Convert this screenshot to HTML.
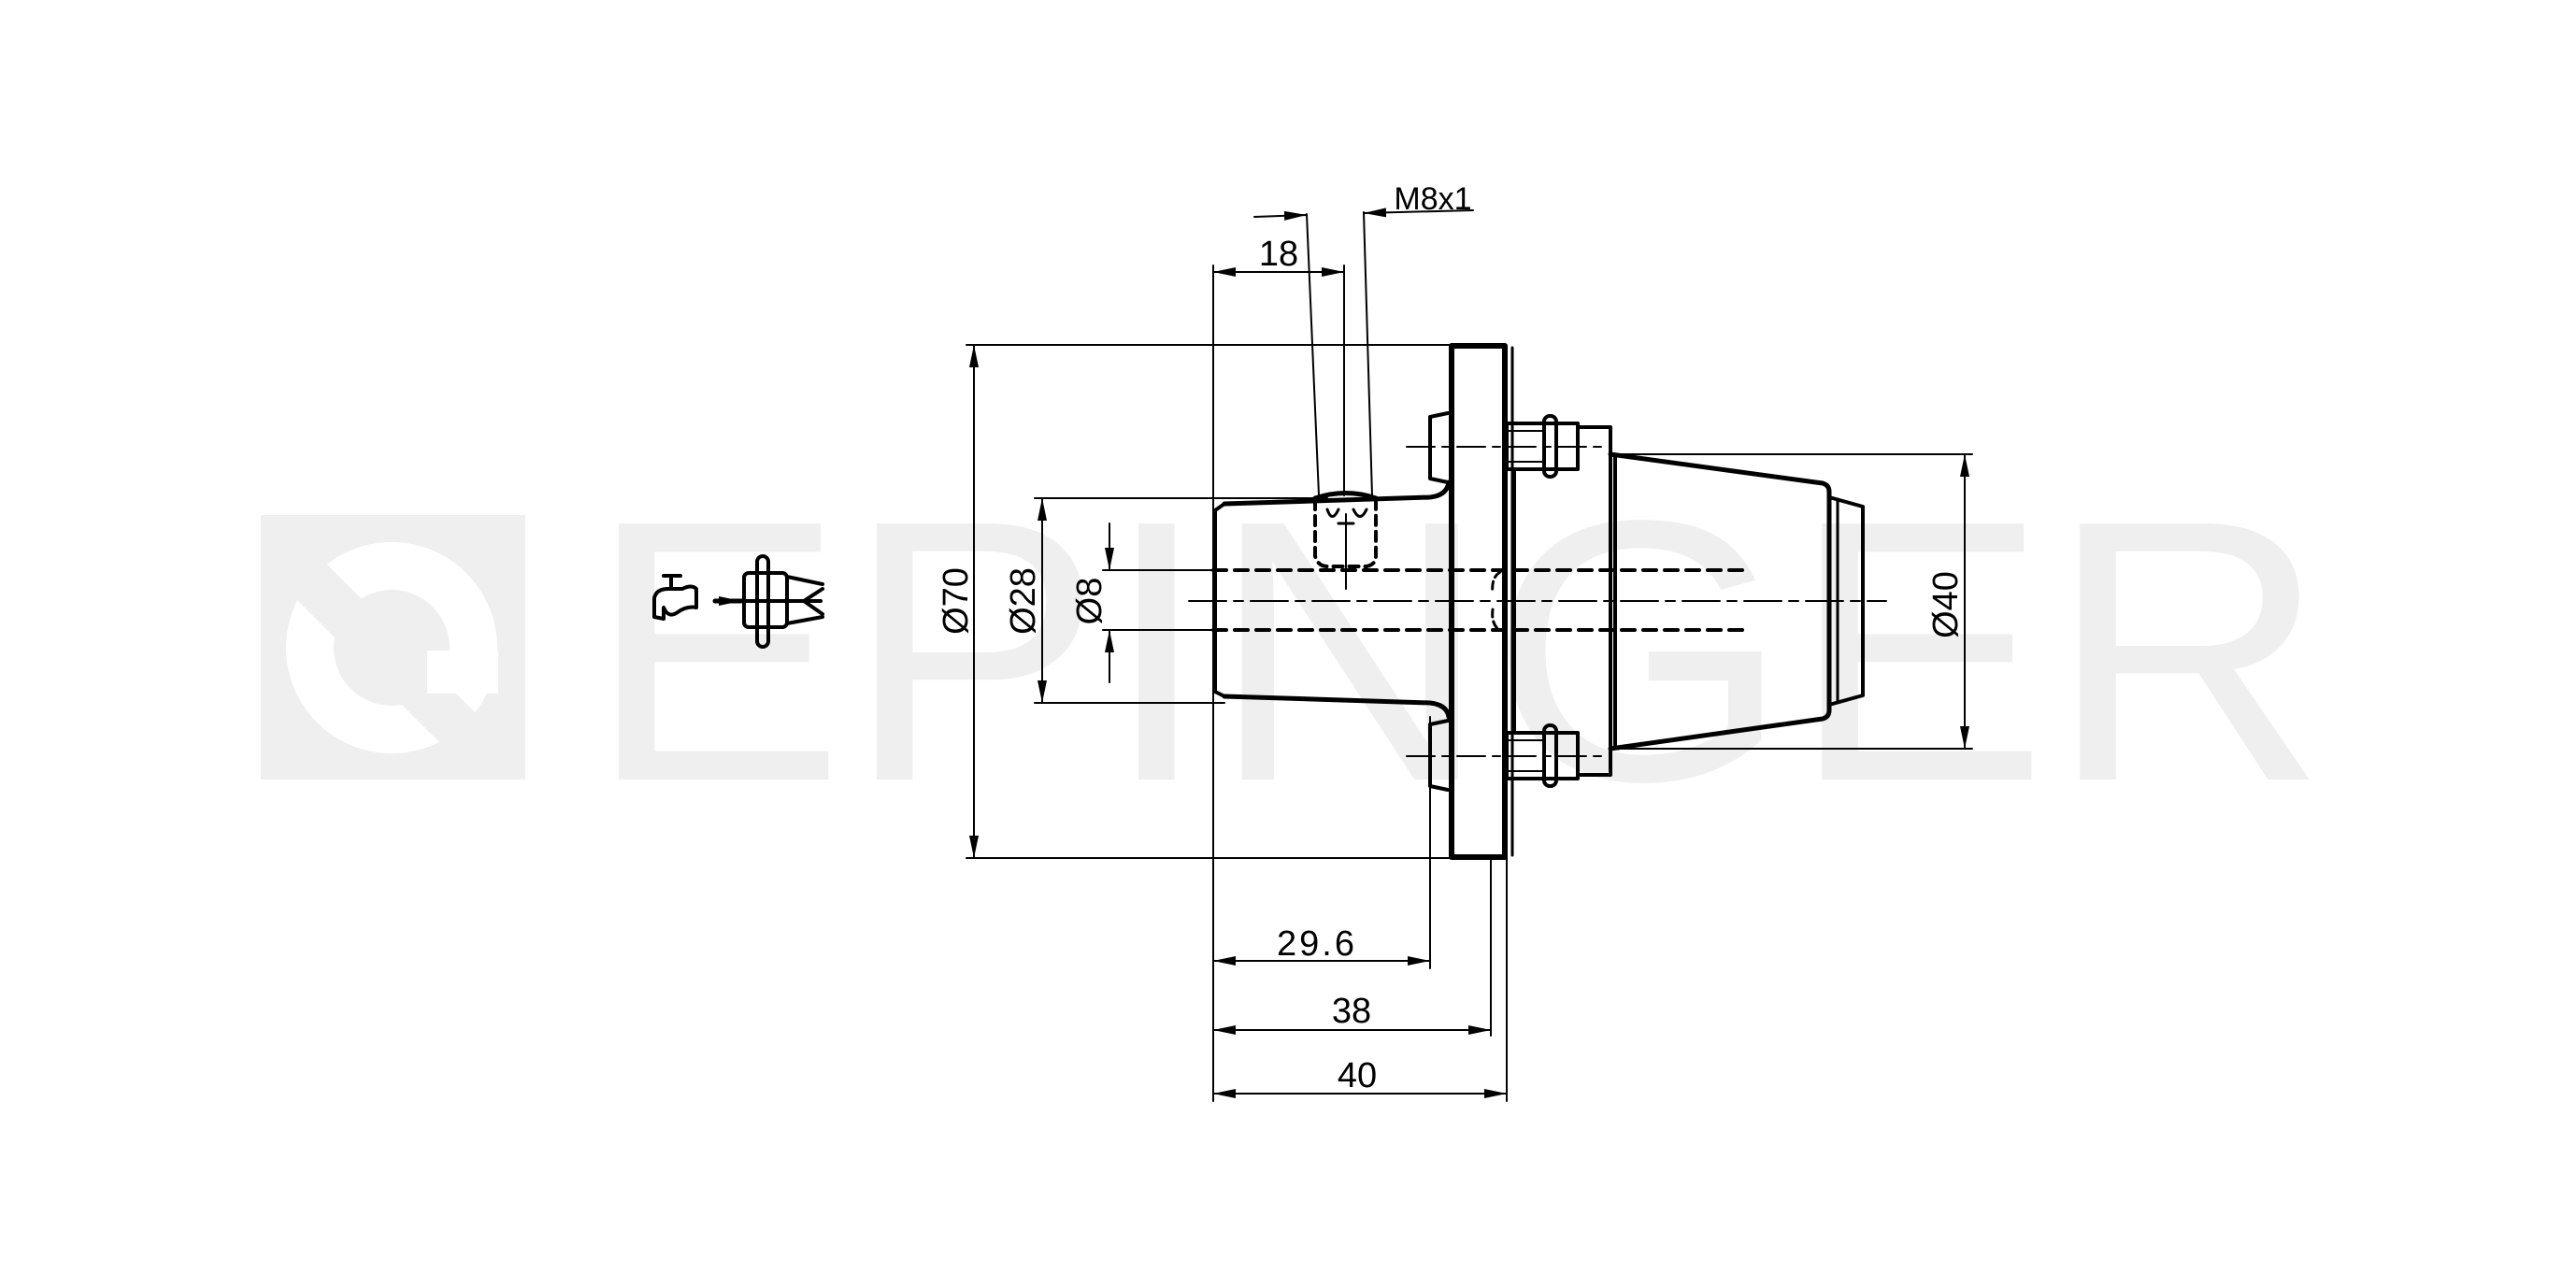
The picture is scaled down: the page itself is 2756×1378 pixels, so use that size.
<!DOCTYPE html>
<html><head><meta charset="utf-8"><style>
html,body{margin:0;padding:0;background:#fff;}
svg{display:block;}
text{font-family:"Liberation Sans",sans-serif;}
</style></head><body>
<svg width="2756" height="1378" viewBox="0 0 2756 1378" xmlns="http://www.w3.org/2000/svg">
<defs>
<marker id="a" viewBox="0 0 24 10" refX="24" refY="5" markerWidth="24" markerHeight="10" markerUnits="userSpaceOnUse" orient="auto-start-reverse"><path d="M0,0 L24,5 L0,10 Z" fill="#000"/></marker>
<clipPath id="sq"><rect x="279" y="551" width="283" height="283"/></clipPath>
</defs>
<!-- watermark -->
<rect x="279" y="551" width="283" height="283" fill="#efefef"/>
<g clip-path="url(#sq)">
<circle cx="419" cy="693" r="113" fill="#fff"/>
<circle cx="419" cy="693" r="62" fill="#efefef"/>
<polygon points="280,534 560,814 560,884 280,604" fill="#efefef"/>
<rect x="457" y="696" width="76" height="46" fill="#fff"/>
</g>
<text x="628" y="834" font-size="398" fill="#efefef" textLength="1862" lengthAdjust="spacingAndGlyphs">EPINGER</text>

<g fill="none" stroke="#000" stroke-linecap="round" stroke-linejoin="round">
<!-- flange -->
<rect x="1553" y="370" width="57" height="547" stroke-width="6"/>
<line x1="1618" y1="372" x2="1618" y2="915" stroke-width="3"/>
<!-- body -->
<path d="M1310,539 L1530,532 Q1548,530 1550,516" stroke-width="5"/>
<path d="M1310,745 L1530,752 Q1548,754 1550,767" stroke-width="5"/>
<path d="M1310,539 L1300,546 L1300,740 L1310,745" stroke-width="4"/>
<!-- tabs -->
<path d="M1549,442 L1530,446 L1530,512 L1549,516" stroke-width="4"/>
<path d="M1549,771 L1530,775 L1530,841 L1549,845" stroke-width="4"/>
<!-- studs -->
<g stroke-width="4">
<rect x="1612" y="453" width="76" height="49"/>
<rect x="1652" y="445" width="13" height="65" rx="6"/>
<line x1="1612" y1="461" x2="1652" y2="461" stroke-width="2"/>
<line x1="1612" y1="494" x2="1652" y2="494" stroke-width="2"/>
<rect x="1612" y="784" width="76" height="49"/>
<rect x="1652" y="776" width="13" height="65" rx="6"/>
<line x1="1612" y1="792" x2="1652" y2="792" stroke-width="2"/>
<line x1="1612" y1="825" x2="1652" y2="825" stroke-width="2"/>
<polyline points="1688,457 1723,457 1723,829 1688,829"/>
<line x1="1620" y1="502" x2="1620" y2="784"/>
<line x1="1728" y1="487" x2="1728" y2="800"/>
</g>
<!-- cone -->
<path d="M1723,486 L1950,517 Q1957,519 1957,526 L1957,760 Q1957,767 1950,769 L1723,801" stroke-width="5"/>
<path d="M1957,532 L1993,542 L1993,744 L1957,754" stroke-width="4"/>
<line x1="1966" y1="534" x2="1966" y2="752" stroke-width="3"/>
<!-- hole -->
<path d="M1407,535 L1407,595 Q1410,606 1420,606 L1462,606 Q1472,604 1472,595 L1472,535" stroke-width="4" stroke-dasharray="10,7"/>
<path d="M1407,533 Q1440,522 1472,533" stroke-width="5"/>
<path d="M1420,545 Q1425,560 1432,545 M1448,545 Q1455,560 1462,545 M1432,560 L1448,560" stroke-width="3"/>
<line x1="1440" y1="550" x2="1440" y2="630" stroke-width="2"/>
<!-- bore dashed -->
<line x1="1298" y1="610" x2="1865" y2="610" stroke-width="4" stroke-dasharray="14,9"/>
<line x1="1298" y1="674" x2="1865" y2="674" stroke-width="4" stroke-dasharray="14,9"/>
<!-- center lines -->
<line x1="1272" y1="643" x2="2018" y2="643" stroke-width="2" stroke-dasharray="40,8,10,8"/>
<line x1="1505" y1="478" x2="1715" y2="478" stroke-width="2" stroke-dasharray="30,8,8,8"/>
<line x1="1505" y1="809" x2="1715" y2="809" stroke-width="2" stroke-dasharray="30,8,8,8"/>
<path d="M1605,612 Q1595,618 1597,635 M1597,652 Q1595,668 1605,675" stroke-width="3" stroke-dasharray="8,5"/>

<!-- dimension/extension lines -->
<g stroke-width="2">
<line x1="1034" y1="369" x2="1553" y2="369"/>
<line x1="1034" y1="918" x2="1553" y2="918"/>
<line x1="1042" y1="369" x2="1042" y2="918" marker-start="url(#a)" marker-end="url(#a)"/>
<line x1="1107" y1="533" x2="1420" y2="533"/>
<line x1="1107" y1="752" x2="1310" y2="752"/>
<line x1="1115" y1="533" x2="1115" y2="752" marker-start="url(#a)" marker-end="url(#a)"/>
<line x1="1180" y1="610" x2="1300" y2="610"/>
<line x1="1180" y1="674" x2="1300" y2="674"/>
<line x1="1187" y1="560" x2="1187" y2="610" marker-end="url(#a)"/>
<line x1="1187" y1="730" x2="1187" y2="674" marker-end="url(#a)"/>
<line x1="1728" y1="486" x2="2110" y2="486"/>
<line x1="1728" y1="801" x2="2110" y2="801"/>
<line x1="2102" y1="486" x2="2102" y2="801" marker-start="url(#a)" marker-end="url(#a)"/>
<!-- 18 -->
<line x1="1298" y1="284" x2="1298" y2="1178"/>
<line x1="1438" y1="284" x2="1438" y2="530"/>
<line x1="1298" y1="291" x2="1438" y2="291" marker-start="url(#a)" marker-end="url(#a)"/>
<!-- M8x1 -->
<line x1="1398" y1="229" x2="1411" y2="530"/>
<line x1="1459" y1="227" x2="1468" y2="530"/>
<line x1="1342" y1="232" x2="1398" y2="230" marker-end="url(#a)"/>
<line x1="1576" y1="225" x2="1459" y2="228" marker-end="url(#a)"/>
<!-- bottom -->
<line x1="1530" y1="767" x2="1530" y2="1036"/>
<line x1="1595" y1="917" x2="1595" y2="1108"/>
<line x1="1612" y1="917" x2="1612" y2="1178"/>
<line x1="1298" y1="1028" x2="1530" y2="1028" marker-start="url(#a)" marker-end="url(#a)"/>
<line x1="1298" y1="1102" x2="1595" y2="1102" marker-start="url(#a)" marker-end="url(#a)"/>
<line x1="1298" y1="1170" x2="1612" y2="1170" marker-start="url(#a)" marker-end="url(#a)"/>
</g>

<!-- icons -->
<g stroke-width="4">
<path d="M700,660 L700,640 Q702,630 715,630 L730,630 Q740,625 745,630 L745,650 Q735,648 725,655 Q715,662 710,650 L710,662 Z"/>
<line x1="718" y1="630" x2="718" y2="616"/>
<line x1="710" y1="616" x2="728" y2="616"/>
<line x1="765" y1="643" x2="793" y2="643" stroke-width="5" marker-end="url(#a)"/>
<rect x="796" y="613" width="46" height="58" rx="5"/>
<rect x="810" y="595" width="12" height="97" rx="6"/>
<path d="M842,617 L880,625 M842,667 L880,660 M880,630 L860,643 L880,657"/>
<line x1="796" y1="643" x2="878" y2="643"/>
</g>
</g>

<!-- labels -->
<g font-size="38" fill="#000">
<text x="1368" y="284" text-anchor="middle">18</text>
<text x="1533" y="224" text-anchor="middle" font-size="34">M8x1</text>
<text x="1409" y="1022" text-anchor="middle" letter-spacing="3">29.6</text>
<text x="1446" y="1094" text-anchor="middle">38</text>
<text x="1452" y="1163" text-anchor="middle">40</text>
<text transform="translate(1035,643) rotate(-90)" text-anchor="middle">Ø70</text>
<text transform="translate(1107,643) rotate(-90)" text-anchor="middle">Ø28</text>
<text transform="translate(1178,643) rotate(-90)" text-anchor="middle">Ø8</text>
<text transform="translate(2094,647) rotate(-90)" text-anchor="middle">Ø40</text>
</g>
</svg>
</body></html>
